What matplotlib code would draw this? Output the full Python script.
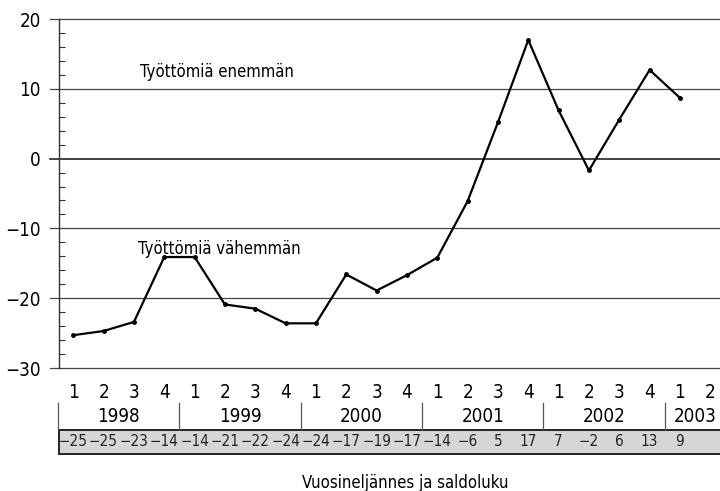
import matplotlib
matplotlib.use("Agg")
import matplotlib.pyplot as plt
import matplotlib.transforms as mtransforms
from matplotlib.patches import Rectangle

plt.rcParams['font.family'] = ['DejaVu Sans']
plt.rcParams['font.stretch'] = 'condensed'

quarters = ["1", "2", "3", "4"] * 5 + ["1", "2"]
years = ["1998", "1999", "2000", "2001", "2002", "2003"]
saldo = [-25.3, -24.7, -23.4, -14.1, -14.1, -20.9, -21.5, -23.6, -23.6, -16.6,
         -18.9, -16.7, -14.2, -6.1, 5.2, 17.0, 6.9, -1.7, 5.6, 12.7, 8.7]
saldo_labels = ["\u221225", "\u221225", "\u221223", "\u221214", "\u221214", "\u221221",
                "\u221222", "\u221224", "\u221224", "\u221217", "\u221219", "\u221217",
                "\u221214", "\u22126", "5", "17", "7", "\u22122", "6", "13", "9"]

fig = plt.figure(figsize=(7.2, 4.91), dpi=100)
ax = fig.add_axes([59 / 720, 1 - 368 / 491, 661 / 720, 349 / 491])

x = list(range(len(saldo)))
ax.plot(x, saldo, color="black", lw=1.6, marker="o", ms=2.5, zorder=3)

ax.set_xlim(-0.47, 21.32)
ax.set_ylim(-30, 20)
for yv in [20, 10, -10, -20, -30]:
    ax.axhline(yv, color="#444444", lw=0.9, xmin=-0.014, clip_on=False, zorder=1)
ax.axhline(0, color="#222222", lw=1.2, xmin=-0.014, clip_on=False, zorder=1)

for s in ["top", "right", "bottom"]:
    ax.spines[s].set_visible(False)
ax.spines["left"].set_linewidth(1.0)
ax.spines["left"].set_color("#333333")

ax.set_yticks([20, 10, 0, -10, -20, -30])
ax.set_yticklabels(["20", "10", "0", "\u221210", "\u221220", "\u221230"], fontsize=13.5)
ax.set_yticks(range(-30, 21, 2), minor=True)
ax.tick_params(axis="y", which="major", length=0, pad=13)
ax.tick_params(axis="y", which="minor", direction="in", length=4, width=0.8, color="#333333")
ax.set_xticks([])

ax.text(4.75, 12.4, "Työttömiä enemmän", fontsize=12, ha="center", va="center")
ax.text(4.8, -12.9, "Työttömiä vähemmän", fontsize=12, ha="center", va="center")

trans = mtransforms.blended_transform_factory(ax.transData, ax.transAxes)
h = 349


def ypos(py):
    return (368 - py) / h


for i, q in enumerate(quarters):
    ax.text(i, ypos(393), q, transform=trans, fontsize=13.5, ha="center", va="center", clip_on=False)

for k, yr in enumerate(years):
    xc = 4 * k + 1.5 if k < 5 else 20.5
    ax.text(xc, ypos(417), yr, transform=trans, fontsize=13.5, ha="center", va="center", clip_on=False)
    ax.plot([4 * k - 0.5, 4 * k - 0.5], [ypos(403), ypos(430)], transform=trans,
            color="#555555", lw=0.9, clip_on=False)

ax.add_patch(Rectangle((-0.47, ypos(454)), 30, ypos(430) - ypos(454), transform=trans,
                       facecolor="#d6d6d6", edgecolor="#222222", lw=1.4, clip_on=False, zorder=0))
for i, lab in enumerate(saldo_labels):
    ax.text(i, ypos(442), lab, transform=trans, fontsize=11, ha="center", va="center",
            clip_on=False, color="#222222")

fig.text(405 / 720, 1 - 483 / 491, "Vuosineljännes ja saldoluku", fontsize=12,
         ha="center", va="center")

fig.savefig("out.png", dpi=100)
